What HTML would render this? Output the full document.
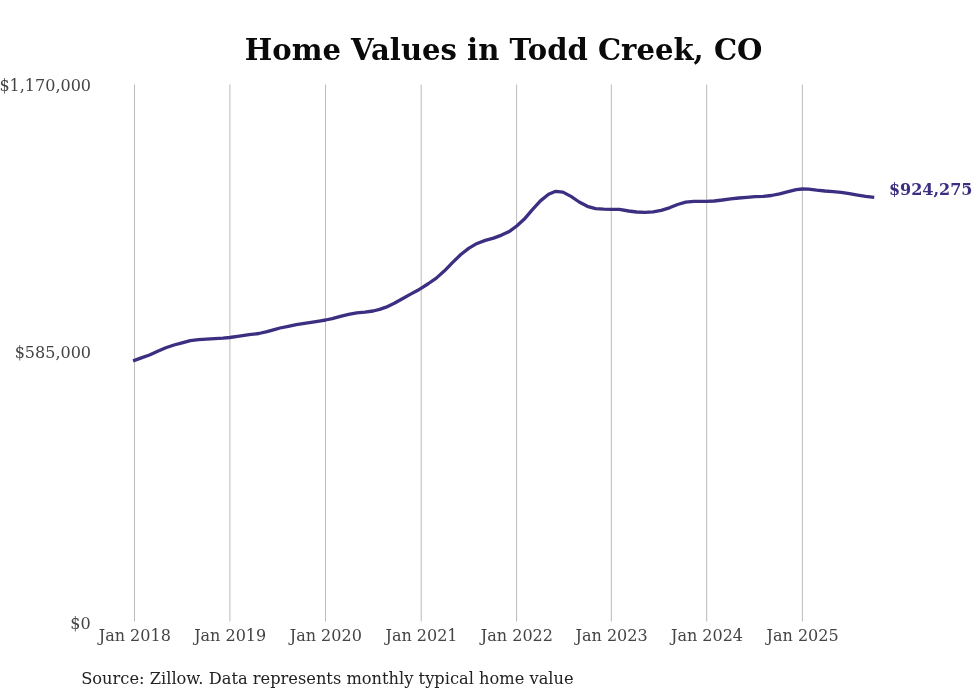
<!DOCTYPE html>
<html><head><meta charset="utf-8"><title>Home Values in Todd Creek, CO</title>
<style>
html,body{margin:0;padding:0;background:#fff;}
body{width:980px;height:699px;overflow:hidden;font-family:"DejaVu Serif","Liberation Serif",serif;}
svg{display:block;font-family:"DejaVu Serif","Liberation Serif",serif;}
.grid line{stroke:#bbbbbb;stroke-width:1;}
.tick text{font-size:16px;fill:#444;}
</style></head><body>
<svg width="980" height="699" viewBox="0 0 980 699">
<rect width="980" height="699" fill="#fff"/>
<text x="503.6" y="59.8" text-anchor="middle" font-size="29.1" font-weight="bold" fill="#0a0a0a">Home Values in Todd Creek, CO</text>
<g class="grid"><line x1="134.5" y1="84.5" x2="134.5" y2="621.5"/><line x1="229.9" y1="84.5" x2="229.9" y2="621.5"/><line x1="325.5" y1="84.5" x2="325.5" y2="621.5"/><line x1="421.2" y1="84.5" x2="421.2" y2="621.5"/><line x1="516.6" y1="84.5" x2="516.6" y2="621.5"/><line x1="611.3" y1="84.5" x2="611.3" y2="621.5"/><line x1="706.7" y1="84.5" x2="706.7" y2="621.5"/><line x1="802.4" y1="84.5" x2="802.4" y2="621.5"/></g>
<g class="tick" text-anchor="end">
<text x="91" y="90.6">$1,170,000</text>
<text x="91" y="358.3">$585,000</text>
<text x="90.6" y="628.6">$0</text>
</g>
<g class="tick" text-anchor="middle"><text x="134.8" y="640.7">Jan 2018</text><text x="230.2" y="640.7">Jan 2019</text><text x="325.8" y="640.7">Jan 2020</text><text x="421.5" y="640.7">Jan 2021</text><text x="516.9" y="640.7">Jan 2022</text><text x="611.6" y="640.7">Jan 2023</text><text x="707.0" y="640.7">Jan 2024</text><text x="802.6" y="640.7">Jan 2025</text></g>
<path d="M134.6,360.40 L141.3,357.90 L149.5,355.02 L157.7,351.20 L165.8,347.80 L174.0,345.00 L182.1,342.79 L190.3,340.70 L198.5,339.70 L206.6,339.10 L214.8,338.60 L223.0,338.10 L229.7,337.50 L239.3,336.20 L249.1,334.70 L258.9,333.50 L267.0,331.70 L275.2,329.30 L280.0,328.00 L288.2,326.40 L296.3,324.70 L304.5,323.40 L312.7,322.10 L320.8,320.80 L325.6,320.00 L332.2,318.70 L340.4,316.40 L348.6,314.30 L356.7,312.80 L364.9,312.20 L373.1,311.00 L379.6,309.40 L386.1,307.18 L394.3,303.30 L402.4,298.80 L410.6,294.18 L418.8,289.69 L421.4,288.07 L428.2,283.74 L436.3,278.13 L444.5,270.85 L452.7,262.43 L460.8,254.52 L469.0,248.10 L477.1,243.43 L485.3,240.39 L493.5,238.12 L501.6,235.10 L509.8,231.19 L516.7,226.03 L524.1,219.31 L532.2,209.91 L540.4,200.90 L548.6,194.19 L555.7,191.32 L562.9,192.10 L571.0,196.40 L579.2,202.00 L587.3,206.30 L595.5,208.60 L603.7,209.20 L611.8,209.30 L619.4,209.40 L628.6,211.00 L636.7,212.00 L644.9,212.40 L653.1,211.80 L661.2,210.40 L669.4,207.82 L677.6,204.50 L685.7,202.20 L693.9,201.40 L702.0,201.40 L706.7,201.40 L714.3,201.00 L722.4,200.00 L730.6,198.80 L738.8,198.00 L746.9,197.30 L755.1,196.70 L763.3,196.30 L771.4,195.50 L779.6,193.78 L788.2,191.60 L796.3,189.70 L802.4,189.00 L808.6,189.20 L816.7,190.20 L824.9,191.00 L833.1,191.60 L841.2,192.40 L849.4,193.70 L857.6,195.10 L865.7,196.30 L872.6,197.10" fill="none" stroke="#3a2f80" stroke-width="3.3" stroke-linejoin="round" stroke-linecap="square"/>
<text x="888.9" y="195.1" font-size="16" font-weight="bold" fill="#3a2f80">$924,275</text>
<text x="81.2" y="683.7" font-size="16.25" fill="#222">Source: Zillow. Data represents monthly typical home value</text>
</svg>
</body></html>
